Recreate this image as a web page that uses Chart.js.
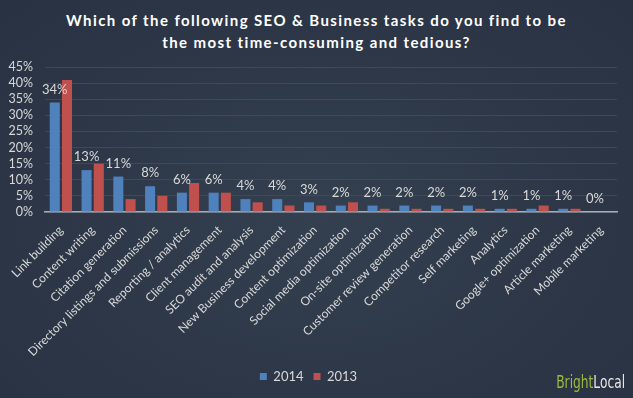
<!DOCTYPE html>
<html>
<head>
<meta charset="utf-8">
<script src="https://cdn.jsdelivr.net/npm/chart.js@4.4.1/dist/chart.umd.min.js"></script>
<style>
    html, body { margin: 0; padding: 0; }
    body {
        width: 633px; height: 398px; overflow: hidden; position: relative;
        background: radial-gradient(ellipse at 50% 55%, #344050 0%, #2d3747 55%, #283242 100%);
        font-family: Lato, "Open Sans", sans-serif;
    }
    #title {
        position: absolute; left: 0; top: 9px; width: 633px;
        text-align: center; color: #ffffff; font-weight: bold;
        font-size: 15px; line-height: 22px; letter-spacing: 1.4px;
    }
    #logo {
        position: absolute; right: 8px; bottom: 6px;
        font-family: "Liberation Sans Narrow", "DejaVu Sans Condensed", sans-serif;
        font-size: 17px; color: #e6e6e6;
        transform: scaleX(0.8); transform-origin: right bottom;
    }
    #logo span { color: #9bbb3b; }
    canvas { position: absolute; left: 0; top: 0; }
</style>
</head>
<body>
<div id="title">Which of the following SEO &amp; Business tasks do you find to be<br>the most time-consuming and tedious?</div>
<canvas id="seoChart" width="633" height="398"></canvas>
<div id="logo"><span>Bright</span>Local</div>

<script>
const tasks = [
    "Link building", "Content writing", "Citation generation",
    "Directory listings and submissions", "Reporting / analytics",
    "Client management", "SEO audit and analysis", "New Business development",
    "Content optimization", "Social media optimization", "On-site optimization",
    "Customer review generation", "Competitor research", "Self marketing",
    "Analytics", "Google+ optimization", "Article marketing", "Mobile marketing"
];
const values2014 = [34, 13, 11, 8, 6, 6, 4, 4, 3, 2, 2, 2, 2, 2, 1, 1, 1, 0];
const values2013 = [41, 15, 4, 5, 9, 6, 3, 2, 2, 3, 1, 1, 1, 1, 1, 2, 1, 0];
const yTicks = [0, 5, 10, 15, 20, 25, 30, 35, 40, 45];

// labels above the 2014 bars
const barLabels = {
    id: "barLabels",
    afterDatasetsDraw(chart) {
        const ctx = chart.ctx;
        const meta = chart.getDatasetMeta(0);
        ctx.save();
        ctx.font = "13px Lato, 'Open Sans', sans-serif";
        ctx.fillStyle = "#d9d9d9";
        ctx.textAlign = "center";
        ctx.textBaseline = "middle";
        meta.data.forEach((bar, i) => {
            ctx.fillText(values2014[i] + "%", bar.x, bar.y - 13);
        });
        ctx.restore();
    }
};

const ctx = document.getElementById("seoChart").getContext("2d");
new Chart(ctx, {
    type: "bar",
    data: {
        labels: tasks,
        datasets: [
            { label: "2014", data: values2014, backgroundColor: "#4f81bd" },
            { label: "2013", data: values2013, backgroundColor: "#c0504d" }
        ]
    },
    options: {
        responsive: false,
        animation: false,
        devicePixelRatio: 1,
        categoryPercentage: 0.77,
        barPercentage: 0.82,
        layout: { padding: { left: 0, right: 16, top: 67, bottom: 5 } },
        scales: {
            y: {
                min: 0,
                max: 45,
                afterBuildTicks: scale => { scale.ticks = yTicks.map(v => ({ value: v })); },
                afterFit: scale => { scale.width = 45; },
                grid: { color: "#3e4959", drawTicks: false, lineWidth: 1 },
                border: { display: false },
                ticks: {
                    autoSkip: false,
                    padding: 12,
                    color: "#d9d9d9",
                    font: { size: 12.5, family: "Lato, 'Open Sans', sans-serif" },
                    callback: v => v + "%"
                }
            },
            x: {
                afterFit: scale => { scale.height = 148; },
                grid: { display: false, drawTicks: false },
                border: { color: "#a6adb6", width: 1.5 },
                ticks: {
                    minRotation: 45,
                    maxRotation: 45,
                    autoSkip: false,
                    padding: 11,
                    color: "#d9d9d9",
                    font: { size: 12, family: "Lato, 'Open Sans', sans-serif" }
                }
            }
        },
        plugins: {
            legend: {
                position: "bottom",
                labels: {
                    boxWidth: 7,
                    boxHeight: 7,
                    padding: 10,
                    color: "#d9d9d9",
                    font: { size: 13, family: "Lato, 'Open Sans', sans-serif" }
                }
            },
            tooltip: { enabled: false },
            title: { display: false }
        }
    },
    plugins: [barLabels]
});
</script>
</body>
</html>
